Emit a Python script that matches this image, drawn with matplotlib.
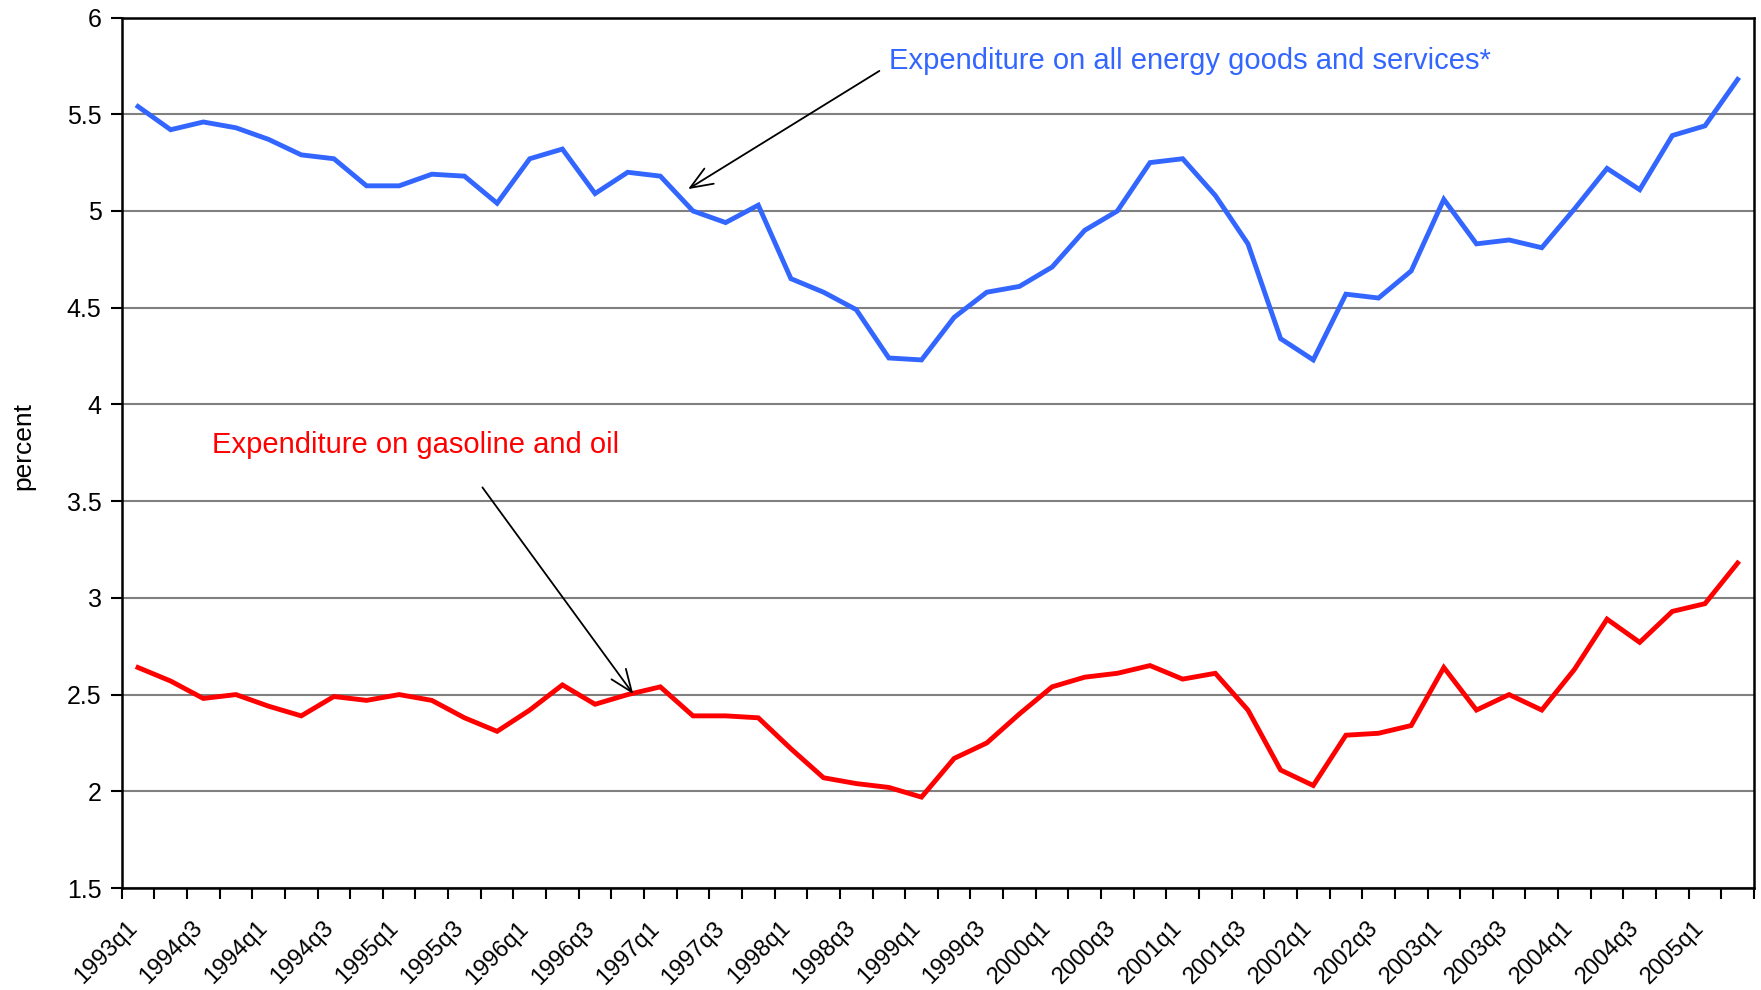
import numpy as np
import matplotlib
matplotlib.use('Agg')
import matplotlib.pyplot as plt
import matplotlib.transforms as mtransforms

plt.rcParams['font.family'] = ['Liberation Sans', 'DejaVu Sans']

# Quarters 1993q1 .. 2005q2
quarters = [f"{y}q{q}" for y in range(1993, 2006) for q in range(1, 5)][:50]

# Tick labels as printed on the original chart (every second quarter)
tick_labels = ['1993q1', '1994q3', '1994q1', '1994q3', '1995q1', '1995q3', '1996q1', '1996q3',
               '1997q1', '1997q3', '1998q1', '1998q3', '1999q1', '1999q3', '2000q1', '2000q3',
               '2001q1', '2001q3', '2002q1', '2002q3', '2003q1', '2003q3', '2004q1', '2004q3',
               '2005q1']

energy = [5.54, 5.42, 5.46, 5.43, 5.37, 5.29, 5.27, 5.13, 5.13, 5.19,
          5.18, 5.04, 5.27, 5.32, 5.09, 5.20, 5.18, 5.00, 4.94, 5.03,
          4.65, 4.58, 4.49, 4.24, 4.23, 4.45, 4.58, 4.61, 4.71, 4.90,
          5.00, 5.25, 5.27, 5.08, 4.83, 4.34, 4.23, 4.57, 4.55, 4.69,
          5.06, 4.83, 4.85, 4.81, 5.01, 5.22, 5.11, 5.39, 5.44, 5.68]

gasoline = [2.64, 2.57, 2.48, 2.50, 2.44, 2.39, 2.49, 2.47, 2.50, 2.47,
            2.38, 2.31, 2.42, 2.55, 2.45, 2.50, 2.54, 2.39, 2.39, 2.38,
            2.22, 2.07, 2.04, 2.02, 1.97, 2.17, 2.25, 2.40, 2.54, 2.59,
            2.61, 2.65, 2.58, 2.61, 2.42, 2.11, 2.03, 2.29, 2.30, 2.34,
            2.64, 2.42, 2.50, 2.42, 2.63, 2.89, 2.77, 2.93, 2.97, 3.18]

blue = '#3366FF'
red = '#FF0000'

x = np.arange(len(quarters))

fig = plt.figure(figsize=(17.61, 9.90), dpi=100)
ax = fig.add_axes([0.0691, 0.1030, 0.9269, 0.8793])

ax.plot(x, energy, color=blue, lw=3.5, solid_joinstyle='miter', zorder=3)
ax.plot(x, gasoline, color=red, lw=3.5, solid_joinstyle='miter', zorder=3)

ax.set_xlim(-0.5, len(quarters) - 0.5)
ax.set_ylim(1.5, 6)
ax.set_yticks(np.arange(1.5, 6.01, 0.5))
ax.set_yticklabels(['1.5', '2', '2.5', '3', '3.5', '4', '4.5', '5', '5.5', '6'])
ax.yaxis.grid(True, color='#808080', lw=1.5)
ax.set_axisbelow(True)

# tick marks at category boundaries, labels at every second category centre
ax.set_xticks(np.arange(-0.5, len(quarters), 1.0))
ax.set_xticklabels([])
ax.set_xticks(np.arange(0, len(quarters), 2), minor=True)
ax.set_xticklabels(tick_labels, minor=True, rotation=45, ha='right', va='top',
                   fontsize=17, rotation_mode='anchor')
ax.tick_params(axis='x', which='major', length=8, width=1.5, direction='out')
ax.tick_params(axis='x', which='minor', length=0, pad=21)
ax.tick_params(axis='y', length=8, width=1.5, labelsize=18, pad=6.5)

shift = mtransforms.ScaledTranslation(-0.12, 0, fig.dpi_scale_trans)
for lab in ax.get_xticklabels(minor=True):
    lab.set_transform(lab.get_transform() + shift)

for s in ax.spines.values():
    s.set_linewidth(1.8)
    s.set_color('black')

fig.text(23.5 / 1761, 1 - 446 / 990, 'percent', rotation=90, fontsize=19,
         ha='center', va='center')

ax.text(23.0, 5.733, 'Expenditure on all energy goods and services*', color=blue,
        fontsize=21, va='baseline', ha='left')
ax.annotate('', xy=(16.85, 5.113), xytext=(22.71, 5.724),
            arrowprops=dict(arrowstyle='->,head_length=1.0,head_width=0.4',
                            color='black', lw=1.3, mutation_scale=16,
                            shrinkA=0, shrinkB=0))

ax.text(2.28, 3.748, 'Expenditure on gasoline and oil', color=red,
        fontsize=21, va='baseline', ha='left')
ax.annotate('', xy=(15.17, 2.503), xytext=(10.55, 3.571),
            arrowprops=dict(arrowstyle='->,head_length=1.0,head_width=0.4',
                            color='black', lw=1.3, mutation_scale=16,
                            shrinkA=0, shrinkB=0))

fig.savefig('out.png', dpi=100)
